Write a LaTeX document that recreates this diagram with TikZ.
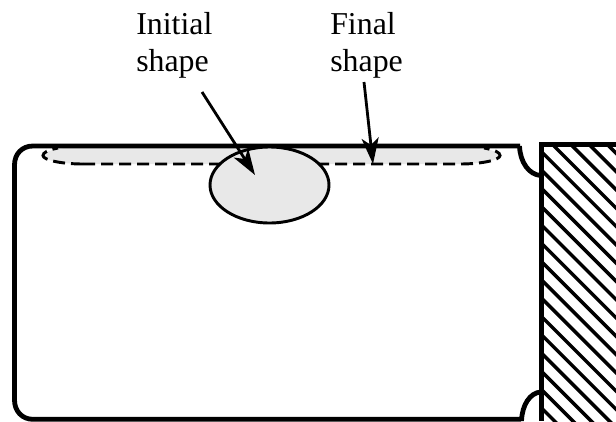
\documentclass[tikz,border=0pt]{standalone}
\usepackage{fontspec}
\setmainfont{Liberation Serif}
\usetikzlibrary{arrows.meta,shapes.geometric}
\definecolor{fillgray}{gray}{0.91}
\tikzset{
  shapefill/.style={fill=fillgray},
  outline/.style={line width=3.6pt,line join=round},
  dashline/.style={line width=2.2pt,dash pattern=on 9pt off 4.5pt},
  callout/.style={line width=2.1pt,-{Stealth[length=26*0.75pt,width=17*0.75pt,inset=7*0.75pt]}},
  caption/.style={align=left,anchor=north west,font=\fontsize{23.9pt}{27.75pt}\selectfont,inner sep=0pt}
}
\begin{document}
\begin{tikzpicture}[x=0.75pt,y=-0.75pt]
\useasboundingbox (0,0) rectangle (616,421);
% hatching
\begin{scope}
\clip (541,146) rectangle (616,421);
\foreach \k in {-17,...,5}{
  \draw[line width=2.6pt] ({408+18.3*\k+100},100) -- ({408+18.3*\k+450},450);
}
\end{scope}
% final shape
\path[shapefill] (83,147) -- (460,147) .. controls (482,147) and (500,151) .. (500,155.5) .. controls (500,160) and (482,164) .. (460,164) -- (83,164) .. controls (61,164) and (43,160) .. (43,155.5) .. controls (43,151) and (61,147) .. (83,147) -- cycle;
\draw[dashline] (83,164) -- (460,164) .. controls (482,164) and (500,160) .. (500,155.5) .. controls (500,152.5) and (495,150) .. (484,148);
\draw[dashline] (83,164) .. controls (61,164) and (43,160) .. (43,155.5) .. controls (43,152.5) and (48,150) .. (58,148);
% body
\draw[outline] (520,146) -- (33,146) .. controls (22,146) and (14.5,154) .. (14.5,165) -- (14.5,400) .. controls (14.5,411) and (22,419.3) .. (33,419.3) -- (521,419.3);
\draw[outline] (519.5,146) .. controls (520,162) and (529,175) .. (541,175.5);
\draw[outline] (521.5,421) .. controls (522,405) and (530,392.5) .. (541,392);
\draw[line width=3.5pt] (616,144.7) -- (541.8,144.7) -- (541.8,421);
% initial shape
\node[draw,line width=2.2pt,shapefill,ellipse,minimum width=119*0.75pt,minimum height=76*0.75pt,inner sep=0pt] (initial) at (269.5,185) {};
% labels
\node[caption] (lab1) at (136,12) {Initial\\shape};
\node[caption] (lab2) at (330,12) {Final\\shape};
\coordinate (tip1) at (255,175);
\coordinate (tip2) at (373,164);
\coordinate (from1) at (202,92);
\coordinate (from2) at (364,82);
\draw[callout] (from1) -- (tip1);
\draw[callout] (from2) -- (tip2);
\end{tikzpicture}
\end{document}
